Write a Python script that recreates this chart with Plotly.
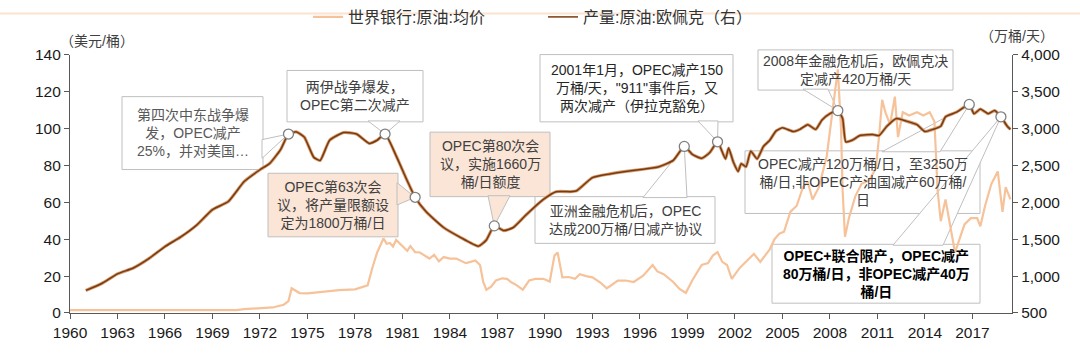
import plotly.graph_objects as go

# ---------------- data ----------------
price_name = "世界银行:原油:均价"
prod_name = "产量:原油:欧佩克（右）"

price_years = [1960.0, 1970.5, 1971.0, 1972.0, 1972.8, 1973.5, 1973.8, 1974.0, 1974.2, 1974.5,
               1975.0, 1976.0, 1977.0, 1978.0, 1978.8, 1979.1, 1979.4, 1979.8, 1980.0, 1980.2,
               1980.4, 1980.6, 1980.9, 1981.3, 1981.5, 1981.8, 1982.1, 1982.4, 1982.7, 1983.0,
               1983.3, 1983.6, 1984.0, 1984.4, 1984.8, 1985.0, 1985.3, 1985.6, 1985.9, 1986.1,
               1986.3, 1986.6, 1986.9, 1987.3, 1987.6, 1987.9, 1988.2, 1988.6, 1989.0, 1989.4,
               1989.9, 1990.3, 1990.6, 1990.8, 1991.1, 1991.5, 1991.9, 1992.2, 1992.6, 1993.0,
               1993.5, 1993.9, 1994.1, 1994.6, 1995.1, 1995.6, 1996.2, 1996.8, 1997.1, 1997.5,
               1998.1, 1998.5, 1998.9, 1999.3, 1999.9, 2000.3, 2000.6, 2000.9, 2001.2, 2001.5,
               2001.8, 2002.3, 2002.9, 2003.2, 2003.6, 2004.2, 2004.5, 2004.8, 2005.1, 2005.5,
               2005.9, 2006.3, 2006.6, 2006.9, 2007.3, 2007.8, 2008.2, 2008.5, 2008.7, 2008.8,
               2008.95, 2009.2, 2009.6, 2010.0, 2010.5, 2010.9, 2011.1, 2011.3, 2011.5, 2011.8,
               2012.1, 2012.3, 2012.6, 2013.0, 2013.5, 2013.9, 2014.3, 2014.6, 2014.8, 2015.0,
               2015.3, 2015.6, 2015.9, 2016.1, 2016.5, 2016.9, 2017.3, 2017.5, 2017.8, 2018.2,
               2018.6, 2018.9, 2019.1, 2019.4]
price_values = [1.6, 1.6, 2.1, 2.4, 3.0, 4.5, 6.5, 13.4, 12.5, 10.8,
                10.6, 11.5, 12.4, 12.8, 15.0, 24.5, 32.8, 40.4, 37.5, 37.9,
                36.0, 39.6, 37.0, 33.7, 36.2, 33.0, 32.8, 31.0, 29.5, 31.5,
                28.0, 30.3, 29.5, 29.5, 28.0, 27.0, 27.7, 28.5, 26.0, 16.8,
                12.6, 14.3, 17.6, 18.8, 18.5, 16.5, 15.1, 12.6, 17.6, 18.5,
                18.5, 17.0, 31.1, 32.8, 19.3, 19.5, 18.5, 21.0, 20.0, 19.3,
                16.5, 13.4, 14.5, 17.5, 17.6, 16.8, 20.2, 26.0, 22.5, 21.0,
                16.8, 13.0, 10.9, 17.6, 26.0, 27.0, 31.1, 33.0, 27.7, 26.0,
                18.5, 24.4, 29.5, 32.0, 27.7, 34.5, 40.0, 43.0, 44.0, 54.8,
                58.1, 68.2, 71.0, 61.5, 68.0, 85.0, 112.0, 132.0, 100.0, 66.6,
                41.3, 51.4, 63.2, 70.0, 72.0, 78.4, 95.3, 115.5, 108.8, 102.0,
                117.2, 95.3, 108.8, 107.0, 108.8, 107.0, 108.8, 103.7, 66.6, 49.7,
                61.5, 48.0, 32.8, 37.9, 48.0, 51.4, 51.4, 47.0, 58.1, 70.0,
                76.7, 54.8, 68.2, 61.5]

prod_years = [1961.0, 1962.0, 1963.0, 1964.0, 1965.0, 1966.0, 1967.0, 1968.0, 1969.0, 1970.0,
              1971.0, 1972.0, 1972.6, 1973.3, 1973.8, 1974.3, 1974.8, 1975.4, 1975.8, 1976.4,
              1977.3, 1978.1, 1978.9, 1979.4, 1979.9, 1980.6, 1981.3, 1981.8, 1982.5, 1983.6,
              1984.6, 1985.8, 1986.3, 1986.8, 1987.4, 1988.0, 1988.8, 1989.9, 1990.7, 1991.6,
              1992.0, 1993.0, 1994.1, 1995.1, 1996.2, 1997.2, 1998.1, 1998.8, 1999.3, 1999.9,
              2000.4, 2000.9, 2001.4, 2001.6, 2001.9, 2002.2, 2002.4, 2002.7, 2003.0, 2003.4,
              2003.8, 2004.2, 2004.6, 2005.0, 2005.7, 2006.1, 2006.6, 2007.1, 2007.5, 2008.0,
              2008.5, 2008.8, 2009.0, 2009.4, 2009.9, 2010.7, 2011.1, 2011.6, 2012.2, 2012.8,
              2013.5, 2014.0, 2014.5, 2015.0, 2015.3, 2016.0, 2016.8, 2017.1, 2017.5, 2018.0,
              2018.4, 2018.8, 2019.2, 2019.4]
prod_values = [806, 900, 1030, 1110, 1240, 1400, 1530, 1690, 1900, 2010,
               2280, 2440, 2523, 2713, 2924, 2953, 2882, 2608, 2566, 2840,
               2945, 2924, 2797, 2840, 2924, 2629, 2291, 2067, 1870, 1658,
               1532, 1405, 1490, 1680, 1616, 1658, 1827, 2038, 2143, 2143,
               2155, 2333, 2384, 2418, 2447, 2481, 2566, 2756, 2650, 2595,
               2671, 2819, 2587, 2734, 2544, 2418, 2523, 2481, 2692, 2587,
               2756, 2840, 2966, 3009, 2958, 2987, 3051, 2987, 3114, 3199,
               3241, 3135, 2819, 2840, 2903, 2916, 2903, 3030, 3135, 3101,
               3051, 2958, 2987, 3030, 3157, 3220, 3325, 3199, 3262, 3199,
               3241, 3157, 3030, 2987]

# points of the production series that carry a call-out
event_years = [1973.8, 1979.9, 1981.8, 1986.8, 1998.8, 2000.9, 2008.5, 2016.8, 2018.8]

x_tick_vals = list(range(1960, 2018, 3))
left_ticks = [0, 20, 40, 60, 80, 100, 120, 140]
right_ticks = [500, 1000, 1500, 2000, 2500, 3000, 3500, 4000]

callout_texts = [
    "第四次中东战争爆<br>发，OPEC减产<br>25%，并对美国…",
    "两伊战争爆发，<br>OPEC第二次减产",
    "OPEC第63次会<br>议，将产量限额设<br>定为1800万桶/日",
    "OPEC第80次会<br>议，实施1660万<br>桶/日额度",
    "亚洲金融危机后，OPEC<br>达成200万桶/日减产协议",
    "2001年1月，OPEC减产150<br>万桶/天，\"911\"事件后，又<br>两次减产（伊拉克豁免）",
    "2008年金融危机后，欧佩克决<br>定减产420万桶/天",
    "OPEC+联合限产，OPEC减产<br>80万桶/日，非OPEC减产40万<br>桶/日",
    "OPEC减产120万桶/日，至3250万<br>桶/日,非OPEC产油国减产60万桶/<br>日",
]

# ---------------- layout geometry (pixels of the 1080x353 page) ----------------
W, H = 1080, 353
PL, PR, PT, PB = 70, 1012, 45, 321.5
X_RANGE = [1960, 2019.5]
Y_RANGE = [0, 140]
Y2_RANGE = [500, 4000]


def to_paper(px, py):
    return (px - PL) / (PR - PL), (PB - py) / (PB - PT)


def to_data(px, py):
    x = X_RANGE[0] + (px - PL) / (PR - PL) * (X_RANGE[1] - X_RANGE[0])
    y = Y2_RANGE[0] + (PB - py) / (PB - PT) * (Y2_RANGE[1] - Y2_RANGE[0])
    return x, y


# call-out boxes: pixel box, fill, text colour, bold, base of pointer (two pixel points), event index
WHITE, PEACH = "#FFFFFF", "#FBE5D6"
callouts = [
    ((122, 90, 263, 168), WHITE, "#595959", False, ((262, 136), (262, 156)), 0),
    ((287, 62, 423, 117), WHITE, "#404040", False, ((368, 116), (400, 116)), 1),
    ((268, 172, 398, 240), PEACH, "#404040", False, ((397, 182), (397, 206)), 2),
    ((430, 128, 550, 197), PEACH, "#404040", False, ((488, 196), (510, 196)), 3),
    ((535, 197, 715, 247), WHITE, "#404040", False, ((643, 198), (687, 198)), 4),
    ((540, 45, 733, 117), WHITE, "#262626", False, ((698, 116), (718, 116)), 5),
    ((758, 40, 953, 83), WHITE, "#404040", False, ((803, 82), (828, 82)), 6),
    ((772, 248, 980, 311), WHITE, "#000000", True, ((893, 249), (943, 249)), 8),
    ((745, 148, 980, 215), WHITE, "#404040", False, ((882, 149), (940, 149)), 7),
]

FONT = "Liberation Sans, Arial, Noto Sans CJK SC, sans-serif"
PRICE_COLOR = "#F6C29A"
PROD_COLOR = "#7A3A10"
BORDER = "#BFBFBF"

fig = go.Figure()

fig.add_trace(go.Scatter(
    x=price_years, y=price_values, name=price_name, mode="lines",
    line=dict(color=PRICE_COLOR, width=2.2), yaxis="y"))

fig.add_trace(go.Scatter(
    x=prod_years, y=prod_values, name=prod_name, mode="lines", showlegend=False,
    line=dict(color="#D49C70", width=3.2, shape="spline", smoothing=0.5), yaxis="y2",
    hoverinfo="skip"))
fig.add_trace(go.Scatter(
    x=prod_years, y=prod_values, name=prod_name, mode="lines",
    line=dict(color=PROD_COLOR, width=1.5, shape="spline", smoothing=0.5), yaxis="y2"))

ev_x = [y for y in event_years]
ev_y = [prod_values[prod_years.index(y)] for y in event_years]
fig.add_trace(go.Scatter(
    x=ev_x, y=ev_y, mode="markers", showlegend=False, yaxis="y2",
    marker=dict(size=10, color="white", line=dict(color="#808080", width=1.3))))

shapes = []
annotations = []
# pointers first, then boxes over them
for (box, fill, tcol, bold, base, ev) in callouts:
    (b1, b2) = base
    x1, y1 = to_data(*b1)
    x2, y2 = to_data(*b2)
    ax, ay = ev_x[ev], ev_y[ev]
    shapes.append(dict(type="path", xref="x", yref="y2", layer="below",
                       path=f"M {x1},{y1} L {ax},{ay} L {x2},{y2} Z",
                       fillcolor=fill, line=dict(color=BORDER, width=1)))
for i, (box, fill, tcol, bold, base, ev) in enumerate(callouts):
    x0, y0, x1, y1 = box
    px0, py1 = to_paper(x0, y0)
    px1, py0 = to_paper(x1, y1)
    shapes.append(dict(type="rect", xref="paper", yref="paper", layer="below",
                       x0=px0, x1=px1, y0=py0, y1=py1,
                       fillcolor=fill, line=dict(color=BORDER, width=1)))

for i, (box, fill, tcol, bold, base, ev) in enumerate(callouts):
    x0, y0, x1, y1 = box
    cx, cy = to_paper((x0 + x1) / 2, (y0 + y1) / 2)
    txt = callout_texts[i]
    if bold:
        txt = "<b>" + txt + "</b>"
    annotations.append(dict(xref="paper", yref="paper", x=cx, y=cy, text=txt,
                            showarrow=False, align="center", xanchor="center", yanchor="middle",
                            font=dict(family=FONT, size=14, color=tcol)))

# unit labels
ux, uy = to_paper(97, 30)
annotations.append(dict(xref="paper", yref="paper", x=ux, y=uy, text="（美元/桶）",
                        showarrow=False, xanchor="center", yanchor="middle",
                        font=dict(family=FONT, size=14, color="#404040")))
ux, uy = to_paper(1017, 25)
annotations.append(dict(xref="paper", yref="paper", x=ux, y=uy, text="（万桶/天）",
                        showarrow=False, xanchor="center", yanchor="middle",
                        font=dict(family=FONT, size=14, color="#404040")))

# thin peach band at the top edge of the picture
shapes.append(dict(type="rect", xref="paper", yref="paper", layer="above",
                   x0=-PL / (PR - PL), x1=(W - PL) / (PR - PL),
                   y0=(PB - 2) / (PB - PT), y1=PB / (PB - PT),
                   fillcolor="#FBE3CF", line=dict(width=0)))

axis_common = dict(showgrid=False, zeroline=False, showline=True, linecolor="#595959", linewidth=1.2,
                   ticks="outside", ticklen=5, tickcolor="#595959", tickwidth=1.2,
                   tickfont=dict(family=FONT, size=15.5, color="#1a1a1a"))

lx, _ = to_paper(308, 0)
fig.update_layout(
    width=W, height=H,
    margin=dict(l=PL, r=W - PR, t=PT, b=H - PB, pad=0),
    paper_bgcolor="white", plot_bgcolor="white",
    font=dict(family=FONT, size=14, color="#333333"),
    xaxis=dict(range=X_RANGE, tickmode="array", tickvals=x_tick_vals,
               ticktext=[str(v) for v in x_tick_vals], **axis_common),
    yaxis=dict(range=Y_RANGE, tickmode="array", tickvals=left_ticks, **axis_common),
    yaxis2=dict(range=Y2_RANGE, tickmode="array", tickvals=right_ticks, tickformat=",",
                overlaying="y", side="right", **axis_common),
    legend=dict(orientation="h", x=lx, xanchor="left", y=1, yref="container", yanchor="top",
                font=dict(family=FONT, size=16, color="#333333"),
                bgcolor="rgba(0,0,0,0)", entrywidth=190, entrywidthmode="pixels",
                tracegroupgap=0, itemwidth=30),
    shapes=shapes, annotations=annotations, showlegend=True,
)

fig.write_html("out.html")
